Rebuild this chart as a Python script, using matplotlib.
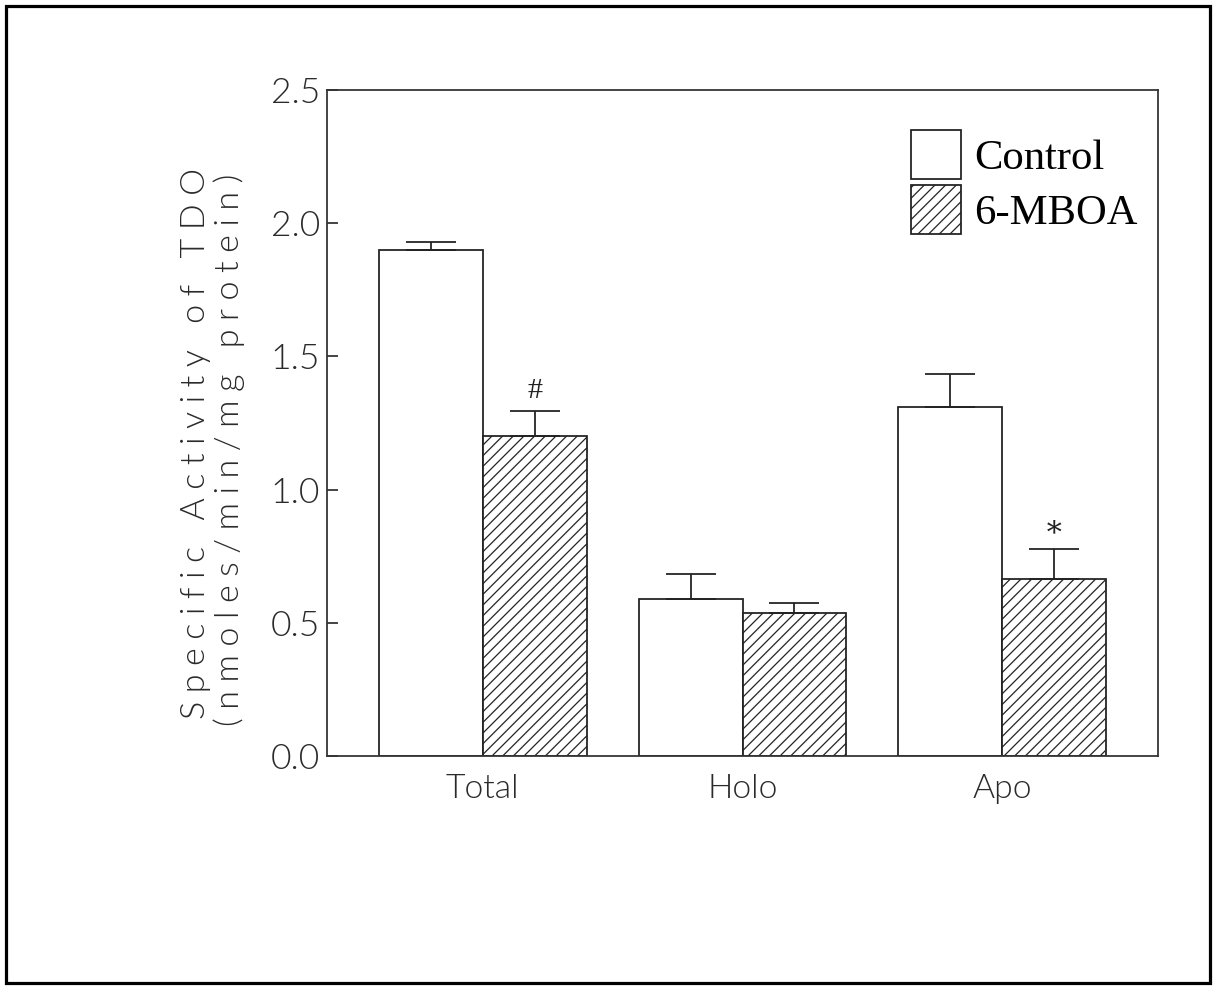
import numpy as np
import matplotlib
matplotlib.use("Agg")
import matplotlib.pyplot as plt
from matplotlib.patches import Rectangle

# values
groups = ["Total", "Holo", "Apo"]
control_mean = [1.90, 0.59, 1.31]
control_err = [0.03, 0.095, 0.125]
mboa_mean = [1.20, 0.535, 0.665]
mboa_err = [0.095, 0.04, 0.113]
mboa_marks = ["#", "", "\u2217"]
series_names = ["Control", "6-MBOA"]
yticks = [0.0, 0.5, 1.0, 1.5, 2.0, 2.5]

DPI = 128
plt.rcParams["hatch.linewidth"] = 0.7
thin = ["Lato", "DejaVu Sans"]
serif = ["Liberation Serif", "DejaVu Serif"]
gray = "#2a2a2a"
LW = 300  # Lato Light

fig = plt.figure(figsize=(1216 / DPI, 989 / DPI), dpi=DPI)
ax = fig.add_axes([327 / 1216, 1 - 756 / 989, 831 / 1216, 666 / 989])

x = np.arange(len(groups))
w = 0.4
ebar = dict(ecolor="#222222", elinewidth=1.0, capsize=14.3, capthick=1.0)
ax.bar(x - w / 2, control_mean, w, color="white", edgecolor="#222222", linewidth=1.0,
       yerr=[np.zeros(3), control_err], error_kw=ebar, label=series_names[0], zorder=2)
ax.bar(x + w / 2, mboa_mean, w, color="white", edgecolor="#222222", linewidth=1.0,
       hatch="////", yerr=[np.zeros(3), mboa_err], error_kw=ebar, label=series_names[1], zorder=2)

# significance marks above the 6-MBOA error bars
for xi, m, e, s in zip(x, mboa_mean, mboa_err, mboa_marks):
    if s:
        ax.text(xi + w / 2, m + e + 0.075, s, ha="center", va="center",
                fontsize=17, family=serif, color="#222222")

ax.set_xlim(-0.6, 2.6)
ax.set_ylim(0, 2.5)
ax.set_yticks(yticks)
ax.set_yticklabels([f"{v:.1f}" for v in yticks], family=thin, fontweight=LW,
                   fontsize=20, color=gray)
ax.set_xticks(x)
ax.set_xticklabels(groups, family=thin, fontweight=LW, fontsize=19, color=gray)
ax.tick_params(axis="y", direction="in", length=6, width=1.0, pad=4, color="#333333")
ax.tick_params(axis="x", length=0, pad=10)
for sp in ax.spines.values():
    sp.set_linewidth(1.0)
    sp.set_color("#333333")

# letter-spaced y label, two lines
gap = "\u2009\u2009"
lab1 = gap.join("Specific Activity of TDO")
lab2 = gap.join("(nmoles/min/mg protein)")
ax.text(-0.158, 0.47, lab1, rotation=90, ha="center", va="center", transform=ax.transAxes,
        family=thin, fontweight=LW, fontsize=19.2, color=gray)
ax.text(-0.118, 0.46, lab2, rotation=90, ha="center", va="center", transform=ax.transAxes,
        family=thin, fontweight=LW, fontsize=19.2, color=gray)

leg = ax.legend(loc="upper left", bbox_to_anchor=(0.703, 0.94), frameon=False,
                prop={"family": serif, "size": 24}, handlelength=1.17, handleheight=1.4,
                handletextpad=0.3, labelspacing=0.13, borderpad=0, borderaxespad=0)

# outer frame around the whole figure
fig.patches.append(Rectangle((6 / 1216, 6 / 989), 1204 / 1216, 977 / 989,
                             transform=fig.transFigure, fill=False,
                             edgecolor="black", linewidth=1.8))

fig.savefig("out.png", dpi=DPI)
